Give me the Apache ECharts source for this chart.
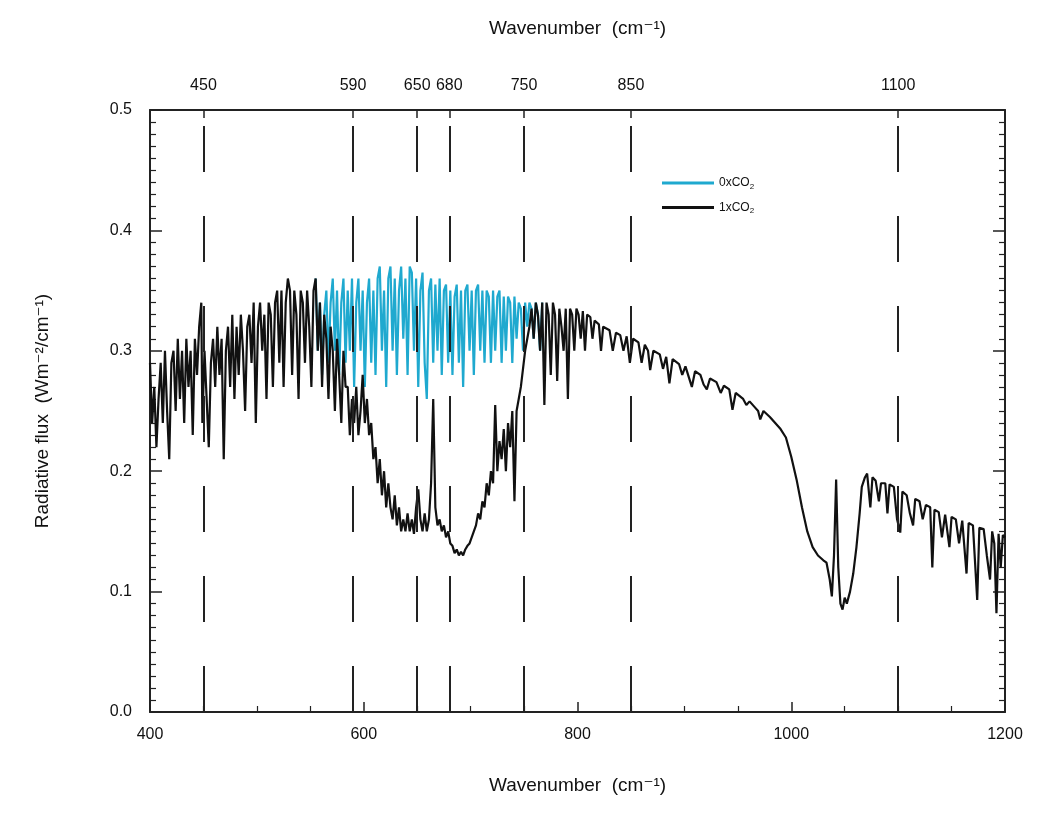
<!DOCTYPE html>
<html>
<head>
<meta charset="utf-8">
<script src="https://cdn.jsdelivr.net/npm/echarts@6/dist/echarts.min.js"></script>
<style>
html,body{margin:0;padding:0;background:#fff;}
#chart{width:1039px;height:818px;}
</style>
</head>
<body>
<div id="chart"></div>
<script>
// Wavenumber (cm-1) markers on the top axis
const topTicks = [450, 590, 650, 680, 750, 850, 1100];
const bottomTicks = [400, 600, 800, 1000, 1200];
const yTicks = [0.0, 0.1, 0.2, 0.3, 0.4, 0.5];

// 1xCO2 spectrum: wavenumber / flux
const wn1 = [400,402,404,406,408,410,412,414,416,418,420,422,424,426,428,430,432,434,436,438,440,442,444,446,448,449,451,453,455,457,459,461,463,465,467,469,471,473,475,477,479,
481,483,485,487,489,491,493,495,497,499,501,503,505,507,509,511,513,515,517,519,521,523,525,527,529,531,533,535,537,539,541,543,545,547,549,551,553,555,557,559,561,563,565,567,569,571,573,575,577,579,581,583,
585,587,589,591,593,595,597,599,601,603,605,607,609,611,613,615,617,619,621,623,625,627,629,631,633,635,637,639,641,643,645,647,649,651,653,655,657,659,661,663,665,667,669,671,673,675,677,679,681,683,685,687,689,691,693,695,697,699,701,703,705,707,709,711,713,715,717,719,721,723,725,727,729,731,733,735,737,739,741,743,745,747,749,751,753,755,757,759,761,763,765,767,769,771,773,775,777,779,781,783,785,787,789,791,793,795,797,799,801,803,805,807,809,
812,814,816,820,822,824,830,833,836,840,843,846,849,852,857,860,863,866,868,871,877,880,883,886,889,895,898,901,907,910,915,918,921,924,930,934,937,942,945,948,955,958,961,966,969,971,974,980,985,990,995,
1000,1005,1010,1015,1020,1025,1030,1033,1036,1038,1040,1042,1044,1046,1048,1050,1052,1055,1058,1061,1064,1066,1069,1071,1074,1076,1079,1082,1084,1088,1090,1092,1096,1099,1102,1104,1108,1111,1114,1116,1120,1123,1126,1130,1132,1134,1138,1141,1144,1148,1150,1154,1157,1160,1164,1166,1170,1174,1176,1180,1183,1186,1188,1190,1192,1194,1196,1198,1200];
const flux1 = [0.29,0.24,0.27,0.22,0.26,0.29,0.24,0.30,0.25,0.21,0.29,0.30,0.25,0.31,0.26,0.30,0.24,0.31,0.27,0.30,0.23,0.31,0.28,0.32,0.34,0.24,0.30,0.26,0.22,0.29,0.31,0.27,0.32,0.28,0.31,0.21,0.30,0.32,0.27,0.33,0.26,
0.32,0.28,0.33,0.30,0.25,0.32,0.33,0.29,0.34,0.24,0.32,0.34,0.30,0.33,0.26,0.34,0.33,0.27,0.34,0.35,0.29,0.35,0.27,0.34,0.36,0.35,0.28,0.35,0.33,0.26,0.35,0.34,0.29,0.35,0.32,0.27,0.35,0.36,0.30,0.34,0.27,0.33,0.31,0.26,0.32,0.30,0.25,0.31,0.28,0.24,0.30,0.27,
0.27,0.23,0.26,0.24,0.27,0.23,0.25,0.28,0.24,0.26,0.23,0.24,0.21,0.22,0.19,0.21,0.18,0.20,0.17,0.19,0.17,0.16,0.18,0.155,0.17,0.15,0.16,0.15,0.165,0.15,0.16,0.148,0.17,0.185,0.16,0.15,0.165,0.15,0.16,0.19,0.26,0.17,0.155,0.16,0.15,0.155,0.145,0.15,0.14,0.138,0.132,0.135,0.13,0.133,0.13,0.135,0.138,0.14,0.145,0.15,0.155,0.165,0.16,0.175,0.17,0.19,0.18,0.20,0.19,0.255,0.20,0.225,0.21,0.235,0.20,0.24,0.22,0.25,0.175,0.25,0.26,0.27,0.285,0.30,0.31,0.32,0.335,0.31,0.34,0.33,0.30,0.34,0.255,0.34,0.33,0.28,0.34,0.33,0.275,0.335,0.32,0.30,0.335,0.26,0.335,0.33,0.30,0.335,0.33,0.31,0.333,0.30,0.33,
0.328,0.31,0.325,0.322,0.30,0.32,0.317,0.30,0.315,0.313,0.30,0.312,0.29,0.31,0.307,0.29,0.305,0.30,0.284,0.30,0.297,0.285,0.295,0.273,0.293,0.289,0.28,0.287,0.27,0.283,0.28,0.272,0.268,0.277,0.274,0.265,0.271,0.268,0.251,0.265,0.26,0.255,0.258,0.253,0.25,0.243,0.25,0.245,0.24,0.235,0.228,
0.212,0.193,0.17,0.15,0.137,0.13,0.126,0.124,0.11,0.096,0.13,0.193,0.12,0.09,0.085,0.095,0.09,0.10,0.115,0.137,0.165,0.187,0.195,0.198,0.17,0.195,0.192,0.175,0.19,0.19,0.165,0.189,0.187,0.16,0.149,0.183,0.18,0.165,0.155,0.177,0.175,0.16,0.172,0.17,0.12,0.168,0.166,0.145,0.164,0.137,0.162,0.16,0.14,0.159,0.115,0.157,0.155,0.093,0.153,0.152,0.13,0.11,0.15,0.14,0.082,0.148,0.12,0.147,0.145];

// 0xCO2 spectrum (where it differs from 1xCO2)
const wn0 = [555,557,559,561,563,565,567,569,571,573,575,577,579,581,583,585,587,589,591,593,595,597,599,601,603,605,607,609,611,613,615,617,619,621,623,625,627,629,631,633,635,637,639,641,643,645,647,649,651,653,655,657,659,661,663,665,667,669,671,673,675,677,679,681,683,685,687,689,691,693,695,697,699,701,703,705,707,709,711,713,715,717,719,721,723,725,727,729,731,733,735,737,739,741,743,745,747,749,751,753,755,757,759,761,763,765,767];
const flux0 = [0.36,0.30,0.34,0.28,0.33,0.35,0.29,0.34,0.36,0.30,0.35,0.28,0.34,0.36,0.29,0.35,0.30,0.36,0.27,0.34,0.36,0.30,0.35,0.27,0.34,0.36,0.29,0.35,0.28,0.36,0.37,0.30,0.35,0.27,0.36,0.37,0.30,0.36,0.28,0.35,0.37,0.31,0.36,0.28,0.37,0.365,0.30,0.36,0.27,0.35,0.365,0.29,0.26,0.35,0.36,0.29,0.355,0.30,0.36,0.28,0.35,0.355,0.29,0.35,0.28,0.345,0.355,0.29,0.35,0.27,0.35,0.355,0.30,0.35,0.28,0.35,0.355,0.30,0.35,0.29,0.35,0.345,0.29,0.35,0.30,0.345,0.35,0.29,0.345,0.30,0.345,0.34,0.29,0.345,0.31,0.34,0.335,0.30,0.34,0.32,0.34,0.335,0.31,0.34,0.33,0.30,0.34];

const seriesNames = ['0xCO{s|2}', '1xCO{s|2}'];
const colors = ['#1fa9cf', '#111111'];

const pairs = (xs, ys) => xs.map((x, i) => [x, ys[i]]);

const FONT = '"Liberation Sans", "DejaVu Sans", sans-serif';
const TXT = '#111';
const chart = echarts.init(document.getElementById('chart'));
chart.setOption({
  animation: false,
  backgroundColor: '#fff',
  grid: {left: 150, right: 34, top: 110, bottom: 106, show: false},
  legend: {
    orient: 'vertical', left: 657, top: 172, itemWidth: 52, itemHeight: 3, itemGap: 11,
    icon: 'rect',
    data: [
      {name: '0xCO2', itemStyle: {color: colors[0]}},
      {name: '1xCO2', itemStyle: {color: colors[1]}}
    ],
    formatter: n => n === '0xCO2' ? seriesNames[0] : seriesNames[1],
    textStyle: {fontFamily: FONT, fontSize: 12, color: TXT,
      rich: {s: {fontSize: 8, verticalAlign: 'bottom', padding: [7, 0, 0, 0], fontFamily: FONT, color: TXT}}}
  },
  xAxis: [
    {
      type: 'value', position: 'bottom', min: 400, max: 1200, interval: 200,
      name: 'Wavenumber  (cm\u207B\u00B9)', nameLocation: 'middle', nameGap: 64,
      nameTextStyle: {fontFamily: FONT, fontSize: 19, color: TXT},
      axisLine: {onZero: false, lineStyle: {color: '#222', width: 2}},
      axisTick: {inside: true, length: 10, lineStyle: {color: '#222', width: 1.5}},
      minorTick: {show: true, splitNumber: 4, length: 6, lineStyle: {color: '#222', width: 1.2}},
      axisLabel: {fontFamily: FONT, fontSize: 16, color: TXT, margin: 15, formatter: v => String(v)},
      splitLine: {show: false}
    },
    {
      type: 'value', position: 'top', min: 400, max: 1200,
      name: 'Wavenumber  (cm\u207B\u00B9)', nameLocation: 'middle', nameGap: 72,
      nameTextStyle: {fontFamily: FONT, fontSize: 19, color: TXT},
      axisLine: {onZero: false, lineStyle: {color: '#222', width: 2}},
      axisTick: {inside: true, length: 8, customValues: topTicks, lineStyle: {color: '#222', width: 1.5}},
      axisLabel: {fontFamily: FONT, fontSize: 16, color: TXT, margin: 16, customValues: topTicks, formatter: v => String(v)},
      splitLine: {show: false}
    }
  ],
  yAxis: [
    {
      type: 'value', position: 'left', min: 0, max: 0.5, interval: 0.1,
      name: 'Radiative flux  (Wm\u207B\u00B2/cm\u207B\u00B9)', nameLocation: 'middle', nameGap: 98,
      nameTextStyle: {fontFamily: FONT, fontSize: 19, color: TXT},
      axisLine: {onZero: false, lineStyle: {color: '#222', width: 2}},
      axisTick: {inside: true, length: 12, lineStyle: {color: '#222', width: 1.5}},
      minorTick: {show: true, splitNumber: 10, length: 6, lineStyle: {color: '#222', width: 1.2}},
      axisLabel: {fontFamily: FONT, fontSize: 16, color: TXT, margin: 18, formatter: v => v.toFixed(1)},
      splitLine: {show: false}
    },
    {
      type: 'value', position: 'right', min: 0, max: 0.5, interval: 0.1,
      axisLine: {onZero: false, lineStyle: {color: '#222', width: 2}},
      axisTick: {inside: true, length: 12, lineStyle: {color: '#222', width: 1.5}},
      minorTick: {show: true, splitNumber: 10, length: 6, lineStyle: {color: '#222', width: 1.2}},
      axisLabel: {show: false},
      splitLine: {show: false}
    }
  ],
  series: [
    {
      name: '0xCO2', type: 'line', xAxisIndex: 0, yAxisIndex: 0,
      data: pairs(wn0, flux0), showSymbol: false, symbol: 'none', z: 3,
      lineStyle: {color: colors[0], width: 2.2}, itemStyle: {color: colors[0]}
    },
    {
      name: '1xCO2', type: 'line', xAxisIndex: 0, yAxisIndex: 0,
      data: pairs(wn1, flux1), showSymbol: false, symbol: 'none', z: 4,
      lineStyle: {color: colors[1], width: 2.2}, itemStyle: {color: colors[1]},
      markLine: {
        silent: true, symbol: 'none', label: {show: false},
        lineStyle: {color: '#222', width: 2, type: [46, 44]},
        data: topTicks.map(v => ({xAxis: v}))
      }
    }
  ]
});
</script>
</body>
</html>
